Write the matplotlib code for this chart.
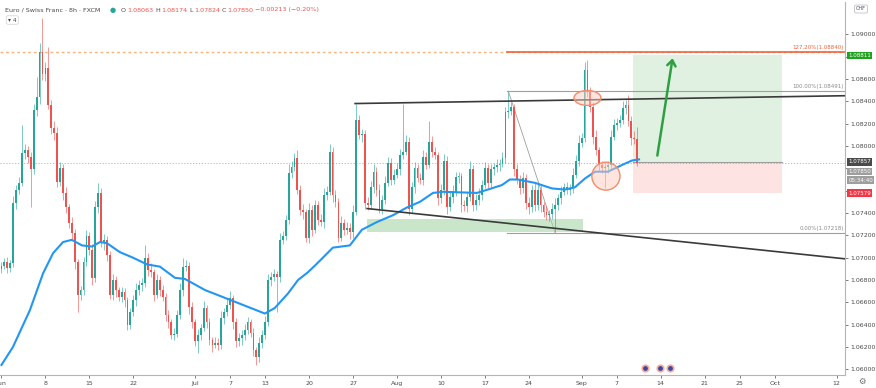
import matplotlib
matplotlib.use("Agg")
import matplotlib.pyplot as plt
from matplotlib.patches import Ellipse, Rectangle, FancyArrowPatch
from matplotlib.transforms import blended_transform_factory
import numpy as np

# EUR/CHF 8h candles (open = previous close)
first_open = 1.0690
close = [
    1.0693, 1.0696, 1.0691, 1.0695, 1.0749, 1.0761, 1.0767, 1.0794, 1.0796, 1.0790,
    1.0779, 1.0832, 1.0844, 1.0884, 1.0864, 1.0870, 1.0837, 1.0816, 1.0812, 1.0768,
    1.0780, 1.0758, 1.0745, 1.0731, 1.0722, 1.0696, 1.0667, 1.0671, 1.0696, 1.0719,
    1.0707, 1.0682, 1.0745, 1.0758, 1.0713, 1.0716, 1.0702, 1.0667, 1.0680, 1.0671,
    1.0665, 1.0669, 1.0662, 1.0640, 1.0651, 1.0662, 1.0671, 1.0676, 1.0677, 1.0700,
    1.0689, 1.0687, 1.0667, 1.0680, 1.0671, 1.0665, 1.0649, 1.0642, 1.0631, 1.0632,
    1.0649, 1.0671, 1.0692, 1.0693, 1.0656, 1.0642, 1.0625, 1.0631, 1.0637, 1.0655,
    1.0642, 1.0626, 1.0622, 1.0624, 1.0622, 1.0646, 1.0651, 1.0658, 1.0664, 1.0642,
    1.0625, 1.0628, 1.0631, 1.0635, 1.0642, 1.0633, 1.0617, 1.0611, 1.0624, 1.0631,
    1.0642, 1.0680, 1.0683, 1.0685, 1.0683, 1.0716, 1.0719, 1.0734, 1.0776, 1.0781,
    1.0789, 1.0761, 1.0743, 1.0741, 1.0718, 1.0743, 1.0725, 1.0747, 1.0734, 1.0732,
    1.0756, 1.0759, 1.0795, 1.0756, 1.0750, 1.0718, 1.0731, 1.0725, 1.0727, 1.0723,
    1.0741, 1.0823, 1.0810, 1.0811, 1.0749, 1.0747, 1.0763, 1.0777, 1.0761, 1.0744,
    1.0752, 1.0767, 1.0785, 1.0770, 1.0774, 1.0779, 1.0792, 1.0795, 1.0804, 1.0744,
    1.0763, 1.0780, 1.0771, 1.0770, 1.0790, 1.0783, 1.0804, 1.0795, 1.0792, 1.0753,
    1.0761, 1.0787, 1.0745, 1.0754, 1.0759, 1.0772, 1.0773, 1.0747, 1.0746, 1.0754,
    1.0779, 1.0747, 1.0752, 1.0756, 1.0765, 1.0780, 1.0767, 1.0779, 1.0781, 1.0783,
    1.0784, 1.0789, 1.0830, 1.0831, 1.0835, 1.0779, 1.0770, 1.0762, 1.0771, 1.0749,
    1.0745, 1.0761, 1.0747, 1.0761, 1.0747, 1.0741, 1.0738, 1.0739, 1.0744, 1.0747,
    1.0753, 1.0759, 1.0763, 1.0761, 1.0762, 1.0774, 1.0787, 1.0803, 1.0807, 1.0868,
    1.0848, 1.0835, 1.0808, 1.0796, 1.0783, 1.0780, 1.0781, 1.0783, 1.0808, 1.0819,
    1.0821, 1.0823, 1.0834, 1.0837, 1.0822, 1.0807, 1.0806, 1.0785,
]
# wick lengths beyond the body, in pips
up_wick = [
    3, 4, 5, 3, 6, 4, 5, 25, 6, 4, 5, 6, 18, 8, 31, 5, 19, 4, 6, 5,
    6, 4, 5, 3, 5, 4, 3, 4, 5, 6, 4, 5, 6, 9, 4, 5, 3, 4, 5, 4,
    3, 5, 4, 3, 4, 5, 6, 4, 5, 11, 4, 6, 3, 5, 4, 5, 3, 4, 3, 5,
    4, 6, 8, 5, 3, 4, 3, 5, 4, 6, 3, 4, 3, 5, 4, 6, 4, 5, 6, 3,
    4, 5, 4, 6, 5, 3, 4, 3, 5, 4, 6, 5, 4, 5, 3, 6, 5, 4, 8, 6,
    5, 7, 4, 5, 3, 6, 4, 5, 4, 5, 6, 5, 7, 4, 5, 3, 6, 4, 5, 4,
    6, 15, 5, 4, 3, 5, 6, 7, 4, 5, 4, 6, 5, 4, 5, 6, 5, 43, 6, 4,
    5, 6, 4, 5, 6, 5, 18, 5, 4, 3, 5, 6, 4, 5, 6, 5, 4, 3, 5, 4,
    8, 4, 5, 6, 5, 6, 4, 5, 4, 5, 4, 6, 5, 17, 4, 3, 5, 4, 6, 4,
    5, 4, 6, 5, 4, 3, 5, 4, 5, 6, 4, 5, 4, 5, 4, 6, 5, 7, 5, 7,
    9, 5, 4, 6, 3, 4, 5, 4, 6, 5, 4, 5, 6, 4, 9, 5, 6, 11,
]
down_wick = [
    4, 3, 5, 4, 3, 5, 4, 3, 6, 5, 34, 4, 5, 6, 5, 6, 4, 5, 7, 5,
    4, 6, 5, 4, 5, 6, 16, 5, 4, 3, 5, 6, 4, 5, 3, 6, 5, 4, 5, 6,
    4, 5, 6, 5, 4, 3, 5, 4, 6, 3, 5, 4, 6, 3, 5, 4, 6, 5, 4, 5,
    3, 4, 5, 4, 6, 5, 4, 10, 5, 3, 5, 4, 6, 3, 5, 4, 5, 3, 4, 6,
    5, 4, 6, 5, 3, 4, 5, 7, 4, 5, 4, 3, 5, 4, 32, 5, 4, 3, 4, 5,
    3, 4, 5, 6, 4, 5, 6, 3, 5, 4, 5, 4, 3, 6, 5, 4, 3, 5, 4, 6,
    5, 3, 4, 6, 5, 4, 3, 5, 6, 4, 5, 4, 3, 5, 4, 3, 5, 4, 3, 6,
    4, 5, 3, 4, 5, 4, 3, 5, 4, 6, 4, 5, 6, 3, 5, 4, 5, 6, 4, 5,
    3, 5, 4, 5, 4, 3, 5, 4, 5, 4, 5, 3, 4, 5, 3, 6, 4, 5, 4, 5,
    6, 4, 5, 4, 6, 5, 4, 5, 4, 21, 4, 5, 3, 4, 5, 4, 3, 5, 4, 3,
    4, 5, 6, 4, 5, 4, 18, 5, 4, 3, 5, 4, 3, 5, 4, 6, 4, 3,
]

# blue moving average, sampled along the line
ma_bar = [0, 3.9, 9.7, 14.2, 17.6, 21, 24, 27.5, 30.9, 33.6, 36, 40.4, 44.9, 49.7,
          54.1, 59.2, 62.6, 69.5, 77.3, 84.1, 89.9, 93.3, 97.8, 101.2, 104.6, 107,
          109.7, 113.1, 118.9, 123, 128.2, 133.6, 138.4, 142.8, 147.3, 150.7, 162.3,
          166, 170.8, 173.5, 176.3, 182.1, 187.9, 192.3, 195.7, 199.2, 202.6, 207,
          211.8, 215.2, 217.6]
ma_price = [1.0604, 1.0620, 1.0653, 1.0686, 1.0704, 1.0714, 1.0716, 1.0711, 1.0710,
            1.0714, 1.0713, 1.0705, 1.0700, 1.0694, 1.0692, 1.0682, 1.0681, 1.0671,
            1.0663, 1.0656, 1.0650, 1.0655, 1.0668, 1.0680, 1.0687, 1.0693, 1.0700,
            1.0709, 1.0711, 1.0725, 1.0732, 1.0738, 1.0745, 1.0750, 1.0758, 1.0759,
            1.0758, 1.0761, 1.0765, 1.0770, 1.0770, 1.0767, 1.0762, 1.0761, 1.0763,
            1.0771, 1.0777, 1.0777, 1.0783, 1.0787, 1.0788]

date_bars = [0, 15, 30, 45, 66, 78, 90, 105, 120, 135, 150, 165, 180, 198,
             210, 225, 240, 252, 264, 285]
date_labels = ["Jun", "8", "15", "22", "Jul", "7", "13", "20", "27", "Aug",
               "10", "17", "24", "Sep", "7", "14", "21", "25", "Oct", "12"]

# drawings
fib_127, fib_100, fib_0 = 1.08840, 1.08491, 1.07218
entry, target, stop = 1.07857, 1.08811, 1.07579
last_close = 1.07850

TEAL = "#26a69a"
RED = "#ef5350"
W, H = 876, 388

fig = plt.figure(figsize=(W / 100, H / 100), dpi=100)
ax = fig.add_axes([0, 13 / H, 845 / W, 373 / H])
ax.set_xlim(-0.5, 287.9)
ax.set_ylim(1.05950, 1.09289)

# candles
c = np.array(close)
o = np.concatenate([[first_open], c[:-1]])
hi = np.maximum(o, c) + np.array(up_wick) * 1e-4
lo = np.minimum(o, c) - np.array(down_wick) * 1e-4
xs = np.arange(len(c))
cols = np.where(c >= o, TEAL, RED)
ax.vlines(xs, lo, hi, colors=cols, lw=0.7, alpha=0.6, zorder=3)
ax.bar(xs, np.maximum(np.abs(c - o), 0.00004), bottom=np.minimum(o, c),
       width=0.62, color=cols, linewidth=0, zorder=4)

ax.plot(ma_bar, ma_price, color="#2196f3", lw=1.5, zorder=5)

# price line and the 127.2% level
ax.axhline(last_close, color="#b0b0b0", lw=0.6, ls=(0, (1.5, 2)), zorder=1)
ax.axhline(fib_127, color="#ffb27a", lw=1.0, ls=(0, (2, 2)), zorder=2)
ax.plot([172.5, 287.9], [fib_127, fib_127], color="#f0623a", lw=1.2, zorder=2)
ax.plot([172.5, 287.9], [fib_100, fib_100], color="#9e9e9e", lw=0.8, zorder=2)
ax.plot([172.5, 287.9], [fib_0, fib_0], color="#9e9e9e", lw=0.8, zorder=2)
ax.plot([173, 189], [1.0849, 1.0722], color="#9e9e9e", lw=0.6, zorder=2)
ax.text(287.5, fib_127 + 0.0002, "127.20%(1.08840)", color="#f0623a",
        fontsize=4, ha="right", va="bottom")
ax.text(287.5, fib_100 + 0.0002, "100.00%(1.08491)", color="#8a8a8a",
        fontsize=4, ha="right", va="bottom")
ax.text(287.5, fib_0 + 0.0002, "0.00%(1.07218)", color="#8a8a8a",
        fontsize=4, ha="right", va="bottom")

# triangle
ax.plot([120.7, 287.9], [1.0838, 1.0845], color="#3a3a3a", lw=1.2, zorder=6)
ax.plot([124.8, 287.9], [1.0744, 1.0699], color="#3a3a3a", lw=1.2, zorder=6)

# support zone
ax.add_patch(Rectangle((124.8, 1.0723), 198.5 - 124.8, 1.0735 - 1.0723,
                       facecolor="#a5d6a7", alpha=0.6, lw=0, zorder=2))

# long position tool
ax.add_patch(Rectangle((215.5, entry), 266.4 - 215.5, target - entry,
                       facecolor="#4caf50", alpha=0.17, lw=0, zorder=1))
ax.add_patch(Rectangle((215.5, stop), 266.4 - 215.5, entry - stop,
                       facecolor="#f44336", alpha=0.14, lw=0, zorder=1))
ax.plot([215.5, 266.4], [entry, entry], color="#9e9e9e", lw=0.8, zorder=2)

# circles
for cx, cy, ew, eh in [(200, 1.0843, 9.2, 0.00134), (206.3, 1.0773, 9.6, 0.0025)]:
    ax.add_patch(Ellipse((cx, cy), ew, eh, facecolor="#ffccbc", alpha=0.5,
                         edgecolor="none", zorder=6))
    ax.add_patch(Ellipse((cx, cy), ew, eh, facecolor="none",
                         edgecolor="#f28b6b", lw=1.0, zorder=7))

# arrow
ax.add_patch(FancyArrowPatch((223.7, 1.0789), (229.2, 1.0881),
                             arrowstyle="->,head_length=4,head_width=3",
                             color="#2ea043", lw=1.8, zorder=8))

# event markers
ax.scatter([219.6, 224.8, 228.2], [1.0601, 1.0601, 1.0601], s=22,
           color="#3949ab", edgecolors="#ffab91", linewidths=1.2, zorder=8,
           clip_on=False)

# axes styling
for side in ["top", "left"]:
    ax.spines[side].set_visible(False)
ax.spines["right"].set_color("#b2b5be")
ax.spines["bottom"].set_color("#b2b5be")
ax.spines["right"].set_linewidth(0.8)
ax.spines["bottom"].set_linewidth(0.8)
ax.yaxis.tick_right()
yt = np.arange(1.060, 1.0901, 0.002)
ax.set_yticks(yt)
# these tick labels sit under the price tags in the screenshot
hidden = [1.088, 1.078, 1.076]
ax.set_yticklabels(["" if any(abs(v - h) < 1e-6 for h in hidden) else "%.5f" % v
                    for v in yt])
ax.tick_params(axis="y", labelsize=4.5, colors="#4a4a4a", length=2, width=0.5, pad=2)
ax.set_xticks(date_bars)
ax.set_xticklabels(date_labels)
ax.tick_params(axis="x", labelsize=4.5, colors="#4a4a4a", length=2, width=0.5, pad=2)

# right-axis price labels
tr = blended_transform_factory(ax.transAxes, ax.transData)
def price_tag(y, s, bg, fg="white"):
    ax.text(1.004, y, s, transform=tr, fontsize=4.0, color=fg, va="center",
            ha="left", zorder=10, clip_on=False,
            bbox=dict(boxstyle="square,pad=0.2", fc=bg, ec="none"))

price_tag(target, "1.08811", "#1fa31f")
price_tag(entry, "1.07857", "#4a4a4a")
price_tag(1.07775, "1.07850", "#9e9e9e")
price_tag(1.07695, "05:34:40", "#9e9e9e")
price_tag(stop, "1.07579", "#f23645")
fig.text(861 / W, 1 - 9 / H, "CHF", fontsize=3.6, color="#4a4a4a", ha="center",
         va="center", bbox=dict(boxstyle="round,pad=0.3", fc="white", ec="#b2b5be", lw=0.5))
fig.text(862 / W, 1 - 381 / H, "⚙", fontsize=6, color="#6a6a6a", ha="center", va="center")

# header
renderer = fig.canvas.get_renderer()
def text_row(x, y, parts, size):
    for s, col in parts:
        t = fig.text(x / W, 1 - y / H, s, color=col, fontsize=size, va="center")
        x = t.get_window_extent(renderer).x1 + 1.5

text_row(5, 10, [("Euro / Swiss Franc · 8h · FXCM", "#4a4a4a")], 4.6)
fig.text(113 / W, 1 - 10 / H, "●", color=TEAL, fontsize=5, ha="center", va="center")
text_row(121, 10, [("O", "#4a4a4a"), ("1.08063", RED), ("H", "#4a4a4a"), ("1.08174", RED),
                   ("L", "#4a4a4a"), ("1.07824", RED), ("C", "#4a4a4a"), ("1.07850", RED),
                   ("−0.00213 (−0.20%)", RED)], 4.6)
fig.text(8 / W, 1 - 20 / H, "▾ 4", fontsize=4.2, color="#4a4a4a", va="center",
         bbox=dict(boxstyle="round,pad=0.3", fc="white", ec="#d0d0d0", lw=0.5))

fig.savefig("out.png", dpi=100)
